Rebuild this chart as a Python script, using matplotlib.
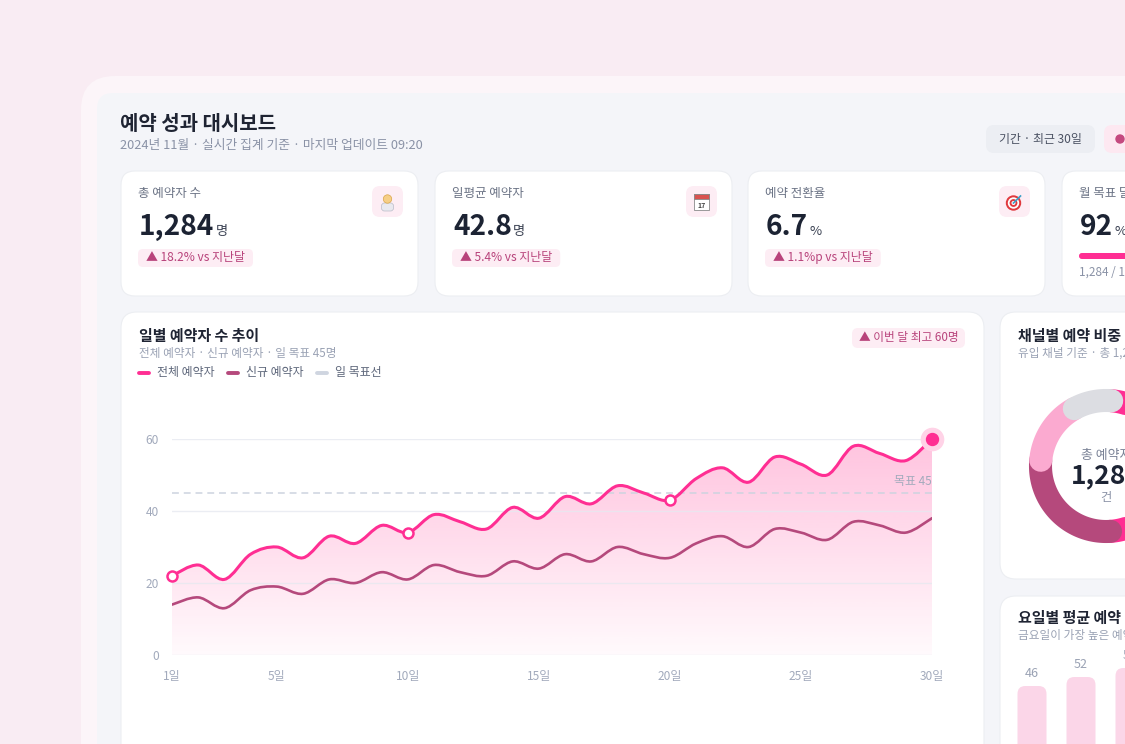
import numpy as np
import matplotlib.pyplot as plt
from matplotlib.patches import FancyBboxPatch, PathPatch, Circle, Rectangle
from matplotlib.path import Path

plt.rcParams['font.family'] = ['Noto Sans CJK KR', 'DejaVu Sans']

# ---- data ----
days = np.arange(1, 31)
total = [22, 25, 21, 28, 30, 27, 33, 31, 36, 34, 39, 37, 35, 41, 38,
         44, 42, 47, 45, 43, 49, 52, 48, 55, 53, 50, 58, 56, 54, 60]
new = [14, 16, 13, 18, 19, 17, 21, 20, 23, 21, 25, 23, 22, 26, 24,
       28, 26, 30, 28, 27, 31, 33, 30, 35, 34, 32, 37, 36, 34, 38]
goal = 45
open_marker_days = [1, 10, 20]
x_ticks = [1, 5, 10, 15, 20, 25, 30]
y_ticks = [0, 20, 40, 60]

kpi_labels = ['총 예약자 수', '일평균 예약자', '예약 전환율', '월 목표 달성률']
kpi_values = ['1,284', '42.8', '6.7', '92']
kpi_units = ['명', '명', '%', '%']
kpi_changes = ['▲ 18.2% vs 지난달', '▲ 5.4% vs 지난달', '▲ 1.1%p vs 지난달', None]
goal_progress = 92
goal_text = '1,284 / 1,400명'

channel_names = ['네이버 예약', '인스타그램', '카카오톡', '기타']
channel_counts = [610, 353, 200, 121]
channel_colors = ['#ff2e93', '#b5497c', '#fbaad0', '#dcdde2']

weekday_names = ['월', '화', '수', '목', '금', '토', '일']
weekday_avg = [46, 52, 58, 55, 66, 61, 40]

PINK = '#ff2e93'
ROSE = '#b5497c'
W, H = 1125, 744

fig = plt.figure(figsize=(W / 100, H / 100), dpi=100)
fig.patch.set_facecolor('#f9ecf3')
bg = fig.add_axes([0, 0, 1, 1])
bg.set_xlim(0, W)
bg.set_ylim(H, 0)
bg.axis('off')


def box(x, y, w, h, r, fc, ec='none', lw=0, z=1):
    p = FancyBboxPatch((x, y), w, h, boxstyle=f'round,pad=0,rounding_size={r}',
                       fc=fc, ec=ec, lw=lw, zorder=z)
    bg.add_patch(p)
    return p


def txt(x, y, s, size, color, weight='normal', ha='left', va='center', z=5):
    return bg.text(x, y, s, fontsize=size, color=color, fontweight=weight,
                   ha=ha, va=va, zorder=z)


renderer = fig.canvas.get_renderer()


def right_edge(t):
    return t.get_window_extent(renderer).x1


# frame + dashboard surface
box(81, 76, 1300, 900, 34, '#fcf5f9')
box(97, 93, 1300, 900, 16, '#f4f5f9')

# header
txt(120, 124, '예약 성과 대시보드', 14.4, '#1f2433', 'bold')
txt(120, 146, '2024년 11월 · 실시간 집계 기준 · 마지막 업데이트 09:20', 9.2, '#8a92a6')
box(986, 125, 109, 28, 8, '#eceef3')
txt(1040.5, 139, '기간 · 최근 30일', 8.6, '#4a5162', 'medium', ha='center')
box(1104, 125, 120, 28, 8, '#fde8f1')
bg.add_patch(Circle((1120, 139), 4, color='#c4497f', zorder=5))

# KPI cards
card_x = [121, 435, 748, 1062]
for i, cx in enumerate(card_x):
    box(cx, 171, 297, 125, 14, 'white', '#eceef2', 0.8, z=2)
    txt(cx + 17, 193.5, kpi_labels[i], 9, '#6b7385')
    v = txt(cx + 18, 235, kpi_values[i], 20.2, '#1c2333', 'bold', va='baseline')
    txt(right_edge(v) + 1.5, 235, kpi_units[i], 9.5, '#3a4152', va='baseline')
    if i < 3:
        box(cx + 251, 186, 31, 31, 8, '#fdedf4', z=3)
    if kpi_changes[i]:
        t = txt(cx + 25, 258, kpi_changes[i], 8.6, '#b8437b')
        box(cx + 17, 249, right_edge(t) - cx - 17 + 8, 18, 5, '#fdedf4', z=3)

# small icons
ix = card_x[0] + 266.5
bg.add_patch(FancyBboxPatch((ix - 6, 203), 12, 8, boxstyle='round,pad=0,rounding_size=3',
                            fc='#e9e9ef', ec='#b9bcc8', lw=0.5, zorder=4))
bg.add_patch(Circle((ix, 199), 4.2, fc='#f6cf86', ec='#d9a548', lw=0.5, zorder=5))
ix = card_x[1] + 266.5
bg.add_patch(Rectangle((ix - 7.5, 194), 15, 16, fc='white', ec='#8a8a8a', lw=0.6, zorder=4))
bg.add_patch(Rectangle((ix - 7.5, 194), 15, 4.5, fc='#d9534f', ec='#8a8a8a', lw=0.6, zorder=5))
txt(ix, 205, '17', 5, '#444444', 'bold', ha='center', z=6)
ix = card_x[2] + 266.5
for r, c in [(7, '#e0393e'), (5, 'white'), (3.2, '#e0393e'), (1.3, 'white')]:
    bg.add_patch(Circle((ix - 1, 203), r, color=c, zorder=5))
bg.plot([ix - 1, ix + 6], [203, 196], color='#3aa0c8', lw=1.2, zorder=6)

# goal progress bar in card 4
cx = card_x[3]
track_w = 262
box(cx + 17, 253, track_w, 6, 3, '#fbe1ee', z=3)
box(cx + 17, 253, track_w * goal_progress / 100, 6, 3, PINK, z=4)
txt(cx + 17, 272, goal_text, 8.5, '#8a92a6')

# panels
box(121, 312, 863, 500, 16, 'white', '#eceef2', 0.8, z=2)
box(1000, 312, 300, 267, 16, 'white', '#eceef2', 0.8, z=2)
box(1000, 596, 300, 300, 16, 'white', '#eceef2', 0.8, z=2)

# line chart panel text
txt(139, 336, '일별 예약자 수 추이', 10.8, '#1f2433', 'bold')
txt(139, 353, f'전체 예약자 · 신규 예약자 · 일 목표 {goal}명', 8.4, '#9aa2b4')
for lx, col, lab in [(139, PINK, '전체 예약자'), (228, ROSE, '신규 예약자'),
                     (317, '#cfd5e0', '일 목표선')]:
    bg.plot([lx, lx + 10], [372.5, 372.5], color=col, lw=2.8, solid_capstyle='round', zorder=5)
    txt(lx + 18, 372.5, lab, 8.6, '#5d667a', 'medium')
box(852, 328, 113, 20, 6, '#fdedf4', z=3)
txt(908.5, 338, f'▲ 이번 달 최고 {max(total)}명', 8.4, '#b8437b', 'medium', ha='center')

# ---- line chart ----
ax = fig.add_axes([172 / W, 1 - 655 / H, 760 / W, 216 / H])
ax.set_facecolor('none')


def smooth(xs, ys):
    pts = np.column_stack([xs, ys]).astype(float)
    ext = np.vstack([pts[0], pts, pts[-1]])
    verts = [pts[0]]
    codes = [Path.MOVETO]
    for i in range(len(pts) - 1):
        p0, p1, p2, p3 = ext[i], ext[i + 1], ext[i + 2], ext[i + 3]
        verts += [p1 + (p2 - p0) / 6, p2 - (p3 - p1) / 6, p2]
        codes += [Path.CURVE4] * 3
    return np.array(verts), codes


tv, tc = smooth(days, total)
nv, nc = smooth(days, new)

fill_verts = np.vstack([tv, [[days[-1], 0], [days[0], 0], [days[0], total[0]]]])
fill_codes = tc + [Path.LINETO, Path.LINETO, Path.CLOSEPOLY]
clip = PathPatch(Path(fill_verts, fill_codes), fc='none', ec='none', transform=ax.transData)
ax.add_patch(clip)
alpha = np.linspace(0.34, 0.03, 256)
img = np.zeros((256, 1, 4))
img[..., 0] = 1.0
img[..., 1] = 79 / 255
img[..., 2] = 160 / 255
img[..., 3] = alpha[:, None]
im = ax.imshow(img, extent=(days[0], days[-1], 0, 60), origin='upper', aspect='auto', zorder=1)
im.set_clip_path(clip)

ax.axhline(goal, color='#cdd3df', lw=1.1, linestyle=(0, (4.5, 3.2)), zorder=2)
ax.annotate(f'목표 {goal}', (days[-1], goal), xytext=(0, 12), textcoords='offset pixels',
            ha='right', va='center', fontsize=8.6, color='#a2aabc')

ax.add_patch(PathPatch(Path(nv, nc), fc='none', ec=ROSE, lw=1.9, capstyle='round', zorder=4))
ax.add_patch(PathPatch(Path(tv, tc), fc='none', ec=PINK, lw=2.2, capstyle='round', zorder=5))

for d in open_marker_days:
    ax.plot(d, total[d - 1], 'o', ms=7.2, mfc='white', mec=PINK, mew=1.8, zorder=6, clip_on=False)
peak = int(np.argmax(total))
ax.plot(days[peak], total[peak], 'o', ms=16, color='#ffd3e7', zorder=6, clip_on=False)
ax.plot(days[peak], total[peak], 'o', ms=8.6, color=PINK, zorder=7, clip_on=False)

ax.set_xlim(days[0], days[-1])
ax.set_ylim(0, 60)
ax.set_yticks(y_ticks)
ax.set_xticks(x_ticks, labels=[f'{d}일' for d in x_ticks])
ax.tick_params(length=0, labelsize=8.6, labelcolor='#a2aabc')
ax.tick_params(axis='y', pad=9.4)
ax.tick_params(axis='x', pad=10.5)
ax.grid(axis='y', color='#e6e9f0', lw=1, alpha=0.8, zorder=1.5)
ax.set_axisbelow(False)
for s in ax.spines.values():
    s.set_visible(False)

# ---- donut ----
txt(1018, 336, '채널별 예약 비중', 10.8, '#1f2433', 'bold')
txt(1018, 353, f'유입 채널 기준 · 총 {sum(channel_counts):,}건', 8.4, '#9aa2b4')
R = 80
pax = fig.add_axes([(1106 - R) / W, 1 - (466 + R) / H, 2 * R / W, 2 * R / H], projection='polar')
pax.set_theta_zero_location('N')
pax.set_theta_direction(-1)
pax.set_ylim(0, R)
pax.set_axis_off()
start = np.deg2rad(5)
tot = sum(channel_counts)
for k, (cnt, col) in enumerate(zip(channel_counts, channel_colors)):
    end = start + 2 * np.pi * cnt / tot
    th = np.linspace(start, end, 120)
    pax.plot(th, np.full_like(th, 65.5), color=col, lw=16.6, solid_capstyle='round', zorder=2 + k)
    start = end
txt(1106, 455, '총 예약자', 9.3, '#7a8296', ha='center')
txt(1106, 476, f'{tot:,}', 19, '#1c2333', 'bold', ha='center')
txt(1106, 497, '건', 8.8, '#8a92a6', ha='center')

# ---- weekday bars ----
txt(1018, 618, '요일별 평균 예약', 10.8, '#1f2433', 'bold')
txt(1018, 636, '금요일이 가장 높은 예약 수를 기록했어요', 8.4, '#9aa2b4')
step = 49
unit = 1.5
bax = fig.add_axes([1007.5 / W, 1 - 755 / H, step * 7 / W, 80 * unit / H])
bax.set_xlim(-0.5, 6.5)
bax.set_ylim(0, 80)
bax.axis('off')
bars = bax.bar(range(len(weekday_avg)), weekday_avg, width=29 / step)
for rect, v in zip(bars, weekday_avg):
    x0, w, h = rect.get_x(), rect.get_width(), rect.get_height()
    rect.remove()
    bax.add_patch(FancyBboxPatch((x0, 0), w, h, boxstyle='round,pad=0,rounding_size=0.16',
                                 mutation_aspect=step / unit, fc='#fbd6e8', ec='none'))
    bax.annotate(str(v), (x0 + w / 2, h), xytext=(0, 13), textcoords='offset pixels',
                 ha='center', va='center', fontsize=9, color='#9aa2b4', annotation_clip=False)

fig.savefig('out.png', dpi=100, facecolor=fig.get_facecolor())
